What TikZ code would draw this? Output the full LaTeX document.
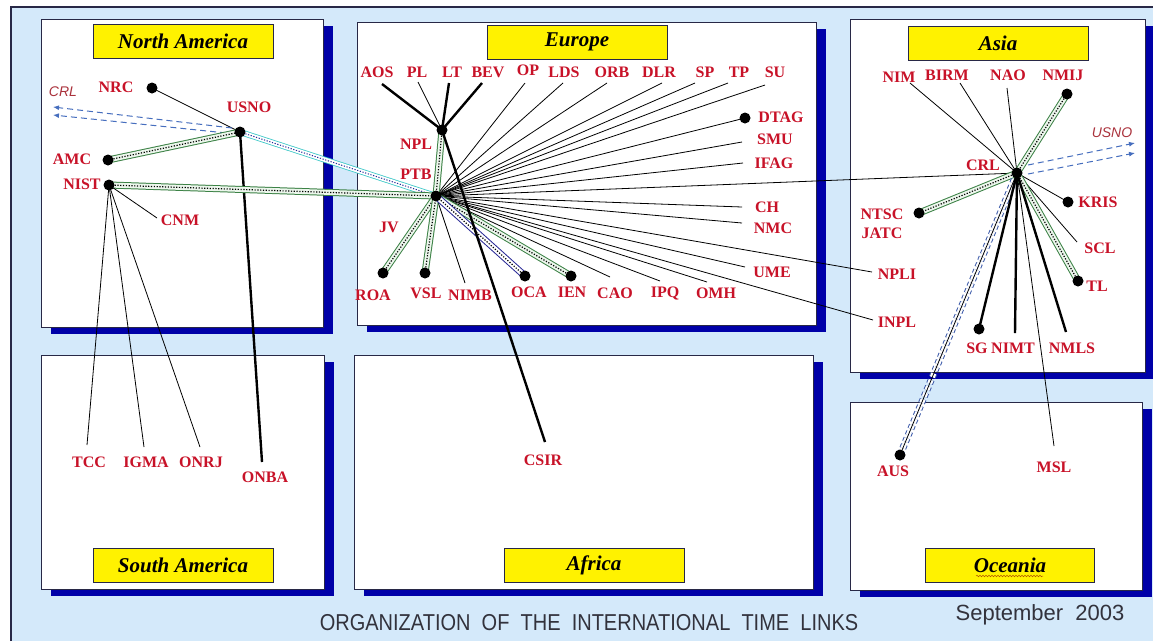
\documentclass[tikz,border=0pt]{standalone}
\usepackage{fontspec}
\setmainfont{Liberation Serif}
\newfontfamily\sansf{Liberation Sans}
\usetikzlibrary{arrows.meta,decorations.pathmorphing}
\definecolor{bgblue}{RGB}{212,233,250}
\definecolor{shadowblue}{RGB}{0,0,168}
\definecolor{edgec}{RGB}{40,40,70}
\definecolor{labred}{RGB}{200,18,40}
\definecolor{bandgreen}{RGB}{60,130,70}
\definecolor{bandin}{RGB}{236,246,236}
\definecolor{bandcyan}{RGB}{60,200,200}
\definecolor{bandnavy}{RGB}{40,40,150}
\definecolor{arrblue}{RGB}{70,110,190}
\definecolor{dashblue}{RGB}{60,90,170}
\definecolor{crlred}{RGB}{170,50,60}
\definecolor{foot}{RGB}{50,50,60}
\pgfdeclarelayer{back}\pgfdeclarelayer{mid}\pgfsetlayers{back,mid,main}
\newcommand\regionbox[4]{%
  \fill[shadowblue] ({#1+10},{#2+7}) rectangle ({#3+10},{#4+7});
  \filldraw[fill=white,draw=edgec,line width=0.8pt] (#1,#2) rectangle (#3,#4);}
\begin{document}
\begin{tikzpicture}[x=1pt,y=-1pt,
  lab/.style={text=labred, font=\fontsize{16}{16}\selectfont\bfseries, inner sep=0pt},
  dot/.style={circle, fill=black, inner sep=0pt, minimum size=11pt},
  titlebox/.style={draw=edgec, fill=yellow, line width=0.8pt, minimum width=180pt, minimum height=34pt, inner sep=0pt, font=\fontsize{21}{21}\selectfont\bfseries\itshape},
  thin link/.style={draw=black, line width=0.8pt},
  thick link/.style={draw=black, line width=2.4pt},
  gband/.style={draw=bandgreen, line width=7pt, postaction={draw=bandin, line width=5pt, solid}, postaction={draw=black, line width=1.2pt, dash pattern=on 1.2pt off 1.6pt}},
  cband/.style={draw=bandcyan, line width=6pt, postaction={draw=white, line width=4.4pt, solid}, postaction={draw=bandnavy, line width=1pt, dash pattern=on 1.2pt off 1.6pt}},
  nband/.style={draw=bandnavy, line width=7pt, postaction={draw=white, line width=5pt, solid}, postaction={draw=black, line width=1.2pt, dash pattern=on 1.2pt off 1.6pt}},
  dband/.style={draw=dashblue, line width=7pt, dash pattern=on 4pt off 3pt, postaction={draw=white, line width=5pt, dash pattern=on 4pt off 3pt}, postaction={draw=black, line width=0.8pt, solid}},
  darr/.style={draw=arrblue, line width=1pt, dash pattern=on 6pt off 4pt, -{Latex[length=6pt,width=5pt]}},
  crllab/.style={text=crlred, font=\sansf\itshape\fontsize{14}{14}\selectfont, inner sep=0pt}
]
\useasboundingbox (0,0) rectangle (1153,641);
\begin{pgfonlayer}{back}
\fill[white] (0,0) rectangle (1153,641);
\fill[bgblue] (11,7) rectangle (1153,641);
\draw[edgec, line width=1.2pt] (11,641) -- (11,7) -- (1153,7);
\regionbox{41}{19}{323}{327}
\regionbox{357}{22}{816}{325}
\regionbox{850}{19}{1145}{372}
\regionbox{41}{355}{324}{589}
\regionbox{354}{355}{813}{589}
\regionbox{850}{402}{1142}{590}
\end{pgfonlayer}

% titles
\node[titlebox] (tNA) at (183,41) {North America};
\node[titlebox] (tEU) at (577,42) {Europe};
\node[titlebox] (tAS) at (998,43) {Asia};
\node[titlebox] (tSA) at (183,565) {South America};
\node[titlebox] (tAF) at (594,565) {Africa};
\node[titlebox, minimum width=169pt] (tOC) at (1010,565) {Oceania};
\draw[decorate, decoration={snake, amplitude=0.8pt, segment length=3pt}, draw=orange!70!black, line width=0.5pt] (976,576) -- (1043,576);

% ---------- North America ----------
\node[dot] (nrc) at (152,88) {};
\node[lab] (nrcL) at (116,87) {NRC};
\node[dot] (usno) at (240,132) {};
\node[lab] (usnoL) at (249,107) {USNO};
\node[dot] (amc) at (108,160) {};
\node[lab] (amcL) at (72,159) {AMC};
\node[dot] (nist) at (109,185) {};
\node[lab] (nistL) at (82,184) {NIST};
\node[lab] (cnmL) at (180,220) {CNM};
\coordinate (cnmE) at (157,218);
\node[crllab] (crlNA) at (63,92) {CRL};
\coordinate (crlA1) at (53,107);
\coordinate (crlA2) at (53,115);
\coordinate (usnoS1) at (232,128);
\coordinate (usnoS2) at (236,134);
\coordinate (tccE) at (87,445);
\node[lab] (tccL) at (89,462) {TCC};
\coordinate (igmaE) at (144,447);
\node[lab] (igmaL) at (146,462) {IGMA};
\coordinate (onrjE) at (200,447);
\node[lab] (onrjL) at (201,462) {ONRJ};
\coordinate (onbaE) at (262,462);
\node[lab] (onbaL) at (265,477) {ONBA};

% ---------- Europe ----------
\node[lab] (aosL) at (377,72) {AOS};   \coordinate (aosE) at (382,84);
\node[lab] (plL) at (417,72) {PL};     \coordinate (plE) at (418,82);
\node[lab] (ltL) at (452,72) {LT};     \coordinate (ltE) at (449,83);
\node[lab] (bevL) at (488,72) {BEV};   \coordinate (bevE) at (482,83);
\node[lab] (opL) at (528,70) {OP};     \coordinate (opE) at (525,83);
\node[lab] (ldsL) at (564,72) {LDS};   \coordinate (ldsE) at (563,83);
\node[lab] (orbL) at (612,72) {ORB};   \coordinate (orbE) at (607,83);
\node[lab] (dlrL) at (659,72) {DLR};   \coordinate (dlrE) at (662,83);
\node[lab] (spL) at (705,72) {SP};     \coordinate (spE) at (695,83);
\node[lab] (tpL) at (739,72) {TP};     \coordinate (tpE) at (728,83);
\node[lab] (suL) at (775,72) {SU};     \coordinate (suE) at (765,85);
\node[dot] (npl) at (442,130) {};
\node[lab] (nplL) at (416,144) {NPL};
\node[dot] (ptb) at (436,196) {};
\node[lab] (ptbL) at (416,174) {PTB};
\node[dot] (dtag) at (745,118) {};
\node[lab] (dtagL) at (781,117) {DTAG};
\node[lab] (smuL) at (775,139) {SMU};   \coordinate (smuE) at (742,142);
\node[lab] (ifagL) at (774,163) {IFAG}; \coordinate (ifagE) at (743,163);
\node[lab] (chL) at (767,207) {CH};     \coordinate (chE) at (742,207);
\node[lab] (nmcL) at (773,228) {NMC};   \coordinate (nmcE) at (742,223);
\node[lab] (umeL) at (772,272) {UME};   \coordinate (umeE) at (745,267);
\node[lab] (npliL) at (897,274) {NPLI}; \coordinate (npliE) at (872,272);
\node[lab] (inplL) at (897,322) {INPL}; \coordinate (inplE) at (873,320);
\node[dot] (roa) at (383,273) {};
\node[lab] (roaL) at (373,295) {ROA};
\node[dot] (vsl) at (425,273) {};
\node[lab] (vslL) at (426,293) {VSL};
\node[lab] (nimbL) at (470,295) {NIMB}; \coordinate (nimbE) at (465,283);
\node[dot] (oca) at (525,276) {};
\node[lab] (ocaL) at (529,292) {OCA};
\node[dot] (ien) at (571,276) {};
\node[lab] (ienL) at (572,292) {IEN};
\node[lab] (caoL) at (615,293) {CAO};   \coordinate (caoE) at (610,277);
\node[lab] (ipqL) at (665,293) {IPQ};   \coordinate (ipqE) at (660,281);
\node[lab] (omhL) at (716,293) {OMH};   \coordinate (omhE) at (707,282);
\node[lab] (jvL) at (389,227) {JV};
\coordinate (csirE) at (545,442);
\node[lab] (csirL) at (543,460) {CSIR};

% ---------- Asia ----------
\node[lab] (nimL) at (899,77) {NIM};    \coordinate (nimE) at (910,83);
\node[lab] (birmL) at (947,75) {BIRM};  \coordinate (birmE) at (960,83);
\node[lab] (naoL) at (1008,75) {NAO};   \coordinate (naoE) at (1007,88);
\node[lab] (nmijL) at (1063,75) {NMIJ};
\node[dot] (nmij) at (1067,94) {};
\node[dot] (crl) at (1017,173) {};
\node[lab] (crlL) at (983,165) {CRL};
\node[crllab] (usnoAS) at (1112,133) {USNO};
\coordinate (usA1) at (1135,143);
\coordinate (usA2) at (1135,153);
\coordinate (crlS1) at (1028,165);
\coordinate (crlS2) at (1028,174);
\node[dot] (ntsc) at (919,213) {};
\node[lab] (ntscL) at (882,214) {NTSC};
\node[lab] (jatcL) at (882,233) {JATC};
\node[dot] (kris) at (1068,202) {};
\node[lab] (krisL) at (1098,202) {KRIS};
\node[lab] (sclL) at (1100,248) {SCL};  \coordinate (sclE) at (1077,242);
\node[dot] (tl) at (1078,281) {};
\node[lab] (tlL) at (1097,286) {TL};
\node[dot] (sg) at (979,329) {};
\node[lab] (sgL) at (977,348) {SG};
\node[lab] (nimtL) at (1013,348) {NIMT}; \coordinate (nimtE) at (1015,333);
\node[lab] (nmlsL) at (1072,348) {NMLS}; \coordinate (nmlsE) at (1066,332);
\coordinate (mslE) at (1054,446);
\node[lab] (mslL) at (1054,467) {MSL};
\node[dot] (aus) at (900,455) {};
\node[lab] (ausL) at (893,471) {AUS};

% footer
\node[text=foot, inner sep=0pt] (footer) at (589,623) {\scalebox{0.87}[1]{\sansf\fontsize{23}{23}\selectfont ORGANIZATION\ \ OF\ \ THE\ \ INTERNATIONAL\ \ TIME\ \ LINKS}};
\node[text=foot, inner sep=0pt] (date) at (1040,615) {\sansf\fontsize{22}{22}\selectfont September\ \ 2003};

% ---------- connectors ----------
\begin{pgfonlayer}{mid}
% North America
\draw[thin link] (nrc.center) -- (usno.center);
\draw[thick link] (usno.center) -- (onbaE);
\draw[darr] (usnoS1) -- (crlA1);
\draw[darr] (usnoS2) -- (crlA2);
\draw[gband] (amc.center) -- (usno.center);
\draw[cband] (usno.center) -- (ptb.center);
\draw[gband] (nist.center) -- (ptb.center);
\draw[thin link] (nist.center) -- (cnmE);
\draw[thin link] (nist.center) -- (tccE);
\draw[thin link] (nist.center) -- (igmaE);
\draw[thin link] (nist.center) -- (onrjE);
% Europe
\draw[thick link] (npl.center) -- (aosE);
\draw[thin link] (npl.center) -- (plE);
\draw[thick link] (npl.center) -- (ltE);
\draw[thick link] (npl.center) -- (bevE);
\foreach \e in {opE,ldsE,orbE,dlrE,spE,tpE,suE,smuE,ifagE,chE,nmcE,umeE,npliE,inplE,nimbE,caoE,ipqE,omhE}
  \draw[thin link] (ptb.center) -- (\e);
\draw[thin link] (ptb.center) -- (dtag.center);
\draw[thin link] (ptb.center) -- (crl.center);
\draw[gband] (npl.center) -- (ptb.center);
\draw[gband] (roa.center) -- (ptb.center);
\draw[gband] (vsl.center) -- (ptb.center);
\draw[gband] (ien.center) -- (ptb.center);
\draw[nband] (oca.center) -- (ptb.center);
\draw[thick link] (npl.center) -- (csirE);
% Asia
\draw[thin link] (crl.center) -- (nimE);
\draw[thin link] (crl.center) -- (birmE);
\draw[thin link] (crl.center) -- (naoE);
\draw[thin link] (crl.center) -- (kris.center);
\draw[thin link] (crl.center) -- (sclE);
\draw[thin link] (crl.center) -- (mslE);
\draw[darr] (crlS1) -- (usA1);
\draw[darr] (crlS2) -- (usA2);
\draw[gband] (crl.center) -- (nmij.center);
\draw[gband] (crl.center) -- (ntsc.center);
\draw[gband] (crl.center) -- (tl.center);
\draw[dband] (crl.center) -- (aus.center);
\draw[thick link] (crl.center) -- (sg.center);
\draw[thick link] (crl.center) -- (nimtE);
\draw[thick link] (crl.center) -- (nmlsE);
\end{pgfonlayer}
\end{tikzpicture}
\end{document}
